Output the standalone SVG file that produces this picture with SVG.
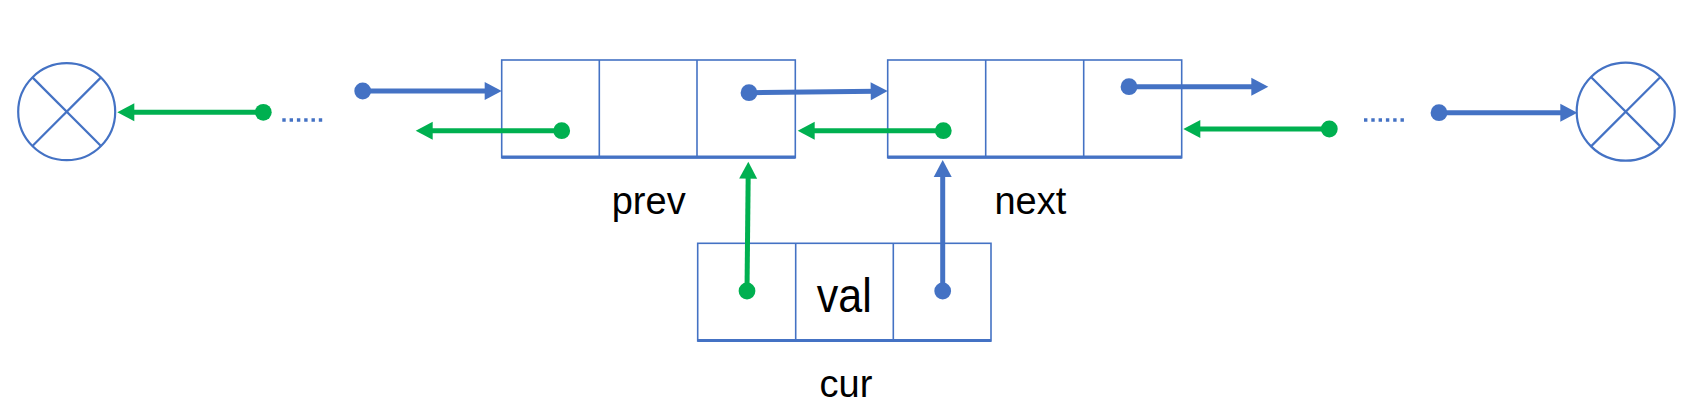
<svg xmlns="http://www.w3.org/2000/svg" width="1702" height="418" viewBox="0 0 1702 418">
<style>
.cell{fill:#fff;stroke:#4472C4;stroke-width:1.6}
.base{stroke:#4472C4;stroke-width:3.2}
.null{fill:none;stroke:#4472C4;stroke-width:2.2}
.lbl{font-family:"Liberation Sans",Arial,sans-serif;font-size:38px;fill:#000;text-anchor:middle}
.b{stroke:#4472C4;stroke-width:5;fill:none}
.g{stroke:#00B050;stroke-width:5;fill:none}
.bl{marker-start:url(#bd);marker-end:url(#ba)}
.gl{marker-start:url(#gd);marker-end:url(#ga)}
.dots{stroke:#4472C4;stroke-width:3.4;stroke-dasharray:3.4 3.9;fill:none}
</style>
<defs>
<marker id="ba" markerUnits="userSpaceOnUse" markerWidth="18" markerHeight="18" refX="5" refY="9" orient="auto" overflow="visible"><path d="M0,0 L17,9 L0,18 z" fill="#4472C4"/></marker>
<marker id="ga" markerUnits="userSpaceOnUse" markerWidth="18" markerHeight="18" refX="5" refY="9" orient="auto" overflow="visible"><path d="M0,0 L17,9 L0,18 z" fill="#00B050"/></marker>
<marker id="bd" markerUnits="userSpaceOnUse" markerWidth="18" markerHeight="18" refX="9" refY="9" overflow="visible"><circle cx="9" cy="9" r="8.4" fill="#4472C4"/></marker>
<marker id="gd" markerUnits="userSpaceOnUse" markerWidth="18" markerHeight="18" refX="9" refY="9" overflow="visible"><circle cx="9" cy="9" r="8.4" fill="#00B050"/></marker>
</defs>
<rect width="1702" height="418" fill="#fff"/>
<g id="null-left">
<circle class="null" cx="66.7" cy="111.7" r="48.5"/>
<line class="null" x1="32.4" y1="77.4" x2="101" y2="146"/>
<line class="null" x1="101" y1="77.4" x2="32.4" y2="146"/>
</g>
<g id="null-right">
<circle class="null" cx="1625.7" cy="111.7" r="49"/>
<line class="null" x1="1591" y1="77" x2="1660.4" y2="146.4"/>
<line class="null" x1="1660.4" y1="77" x2="1591" y2="146.4"/>
</g>
<g id="prev">
<rect class="cell" x="501.7" y="60" width="293.6" height="97.7"/>
<line class="cell" x1="599.3" y1="60" x2="599.3" y2="157.7"/>
<line class="cell" x1="697" y1="60" x2="697" y2="157.7"/>
<line class="base" x1="501.7" y1="157.2" x2="795.3" y2="157.2"/>
<text class="lbl" x="648.7" y="214">prev</text>
</g>
<g id="next">
<rect class="cell" x="887.7" y="60" width="294" height="97.7"/>
<line class="cell" x1="985.7" y1="60" x2="985.7" y2="157.7"/>
<line class="cell" x1="1083.7" y1="60" x2="1083.7" y2="157.7"/>
<line class="base" x1="887.7" y1="157.2" x2="1181.7" y2="157.2"/>
<text class="lbl" x="1030.3" y="214.3">next</text>
</g>
<g id="cur">
<rect class="cell" x="697.7" y="243.3" width="293.3" height="97.7"/>
<line class="cell" x1="795.7" y1="243.3" x2="795.7" y2="341"/>
<line class="cell" x1="893.3" y1="243.3" x2="893.3" y2="341"/>
<line class="base" x1="697.7" y1="340.5" x2="991" y2="340.5"/>
<text class="lbl" x="844.2" y="311.7" style="font-size:49px" textLength="55" lengthAdjust="spacingAndGlyphs">val</text>
<text class="lbl" x="846" y="396.7">cur</text>
</g>
<g id="connectors">
<line class="dots" x1="282.3" y1="120" x2="323" y2="120"/>
<line class="dots" x1="1364" y1="120" x2="1405" y2="120"/>
<line class="g gl" x1="263.3" y1="112.3" x2="129.3" y2="112.3"/>
<line class="b bl" x1="362.7" y1="91" x2="489.7" y2="91"/>
<line class="g gl" x1="561.7" y1="130.7" x2="427.7" y2="130.7"/>
<line class="b bl" x1="749" y1="92.7" x2="875.7" y2="91.15"/>
<line class="g gl" x1="943.3" y1="130.7" x2="809.7" y2="130.7"/>
<line class="b bl" x1="1129" y1="86.7" x2="1256.3" y2="86.7"/>
<line class="g gl" x1="1329.3" y1="129" x2="1195.3" y2="129"/>
<line class="b bl" x1="1439" y1="112.7" x2="1565.3" y2="112.7"/>
<line class="g gl" x1="747" y1="291" x2="748.2" y2="173.7"/>
<line class="b bl" x1="942.7" y1="291" x2="942.7" y2="172"/>
</g>
</svg>
